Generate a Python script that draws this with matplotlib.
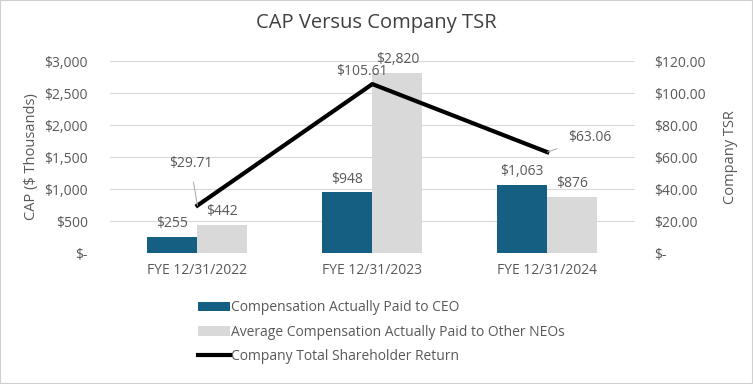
import numpy as np
import matplotlib.pyplot as plt
from matplotlib.ticker import FuncFormatter
from matplotlib.patches import Rectangle

plt.rcParams['font.family'] = ['Open Sans', 'DejaVu Sans']

years = ["FYE 12/31/2022", "FYE 12/31/2023", "FYE 12/31/2024"]
cap_ceo = [255, 948, 1063]
cap_neo = [442, 2820, 876]
tsr = [29.71, 105.61, 63.06]

grey_txt = "#595959"
blue = "#156082"
light = "#d9d9d9"

fig = plt.figure(figsize=(7.53, 3.84), dpi=100)
fig.patches.append(Rectangle((0, 0), 1, 1, transform=fig.transFigure,
                             fill=False, edgecolor="#d0d0d0", lw=1.5))
ax = fig.add_axes([0.146, 0.341, 0.697, 0.500])
ax2 = ax.twinx()

x = np.arange(len(years))
w = 0.286
b1 = ax.bar(x - w / 2, cap_ceo, w, color=blue, label="Compensation Actually Paid to CEO", zorder=2)
b2 = ax.bar(x + w / 2, cap_neo, w, color=light, label="Average Compensation Actually Paid to Other NEOs", zorder=2)

for xi, v in zip(x - w / 2, cap_ceo):
    ax.text(xi, v + 90, f"${v:,}", ha="center", va="bottom", fontsize=10, color=grey_txt)
for xi, v in zip(x + w / 2, cap_neo):
    ax.text(xi, v + 90, f"${v:,}", ha="center", va="bottom", fontsize=10, color=grey_txt)

ax.set_xlim(-0.5, 2.5)
ax.set_ylim(0, 3000)
ax.set_yticks(np.arange(0, 3001, 500))
ax.yaxis.set_major_formatter(FuncFormatter(lambda v, p: "$-" if v == 0 else f"${v:,.0f}"))
ax.set_xticks(x)
ax.set_xticklabels(years)
ax.grid(axis="y", color=light, lw=0.8, zorder=0)
ax.set_axisbelow(True)
ax.set_ylabel("CAP ($ Thousands)", fontsize=10.5, color=grey_txt, labelpad=4)

line, = ax2.plot(x, tsr, color="black", lw=3, label="Company Total Shareholder Return", zorder=3)
ax2.set_ylim(0, 120)
ax2.set_yticks(np.arange(0, 121, 20))
ax2.yaxis.set_major_formatter(FuncFormatter(lambda v, p: "$-" if v == 0 else f"${v:,.2f}"))
ax2.set_ylabel("Company TSR", fontsize=10.5, color=grey_txt, labelpad=12)

# TSR labels
ax2.annotate(f"${tsr[0]:.2f}", xy=(x[0], tsr[0]), xytext=(x[0] - 0.04, 56),
             ha="center", va="center", fontsize=10, color=grey_txt,
             arrowprops=dict(arrowstyle="-", color="#a6a6a6", lw=0.7, shrinkA=6, shrinkB=0))
ax2.text(x[1] - 0.06, 109, f"${tsr[1]:.2f}", ha="center", va="bottom", fontsize=10, color=grey_txt)
ax2.annotate(f"${tsr[2]:.2f}", xy=(x[2], tsr[2]), xytext=(x[2] + 0.24, 72.5),
             ha="center", va="center", fontsize=10, color=grey_txt,
             arrowprops=dict(arrowstyle="-", color="#a6a6a6", lw=0.7, shrinkA=6, shrinkB=0))

for a in (ax, ax2):
    for s in a.spines.values():
        s.set_visible(False)
    a.tick_params(length=0, labelsize=10, colors=grey_txt)
ax.tick_params(axis="y", pad=16)
ax2.tick_params(axis="y", pad=14)
ax.tick_params(axis="x", pad=7)

fig.suptitle("CAP Versus Company TSR", x=0.5, y=0.965, fontsize=14.5, color="#404040")

fig.legend(handles=[b1, b2, line], loc="upper left", bbox_to_anchor=(0.255, 0.232),
           ncol=1, frameon=False, fontsize=10, labelcolor=grey_txt,
           handlelength=2.3, handletextpad=0.1, labelspacing=0.68, borderaxespad=0)

fig.savefig("out.png", dpi=100)
